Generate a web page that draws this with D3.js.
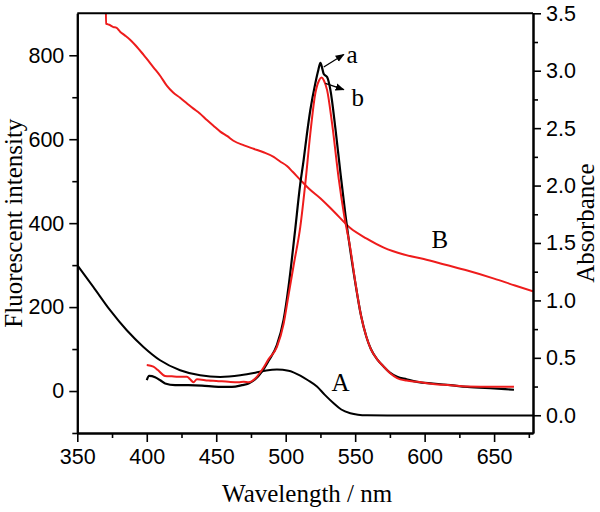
<!DOCTYPE html>
<html><head><meta charset="utf-8">
<script src="https://cdn.jsdelivr.net/npm/d3@7"></script>
<style>body{margin:0;background:#fff}svg{display:block}</style>
</head><body><svg id="c" width="600" height="512"></svg>
<script>
// ---- data ----
const xTicks = [350,400,450,500,550,600,650];
const yLeftTicks = [0,200,400,600,800];
const yRightTicks = [0,0.5,1,1.5,2,2.5,3,3.5];

// Curve A: absorbance (black)
const wlA  = [350,361.5,373.6,385.6,397.6,409.6,424,438.4,452.9,467.3,478.1,486,493.7,502,510.5,516,522.5,528,534.5,540,546.5,552,558.6,580,620,680];
const absA = [1.307,1.118,0.915,0.74,0.595,0.479,0.392,0.348,0.334,0.348,0.37,0.39,0.398,0.388,0.345,0.305,0.25,0.18,0.105,0.05,0.018,0.005,0.0,-0.002,-0.002,-0.002];

// Curve B: absorbance (red)
const wlB  = [370.5,370.7,373,376,378,380.8,384,388,392,397.6,404.8,410,414.4,419,424,429,433.6,438,443.3,448,452.9,458,462.4,470,476.9,484,491.3,496,500.9,505,510.5,517,524.9,535,546.5,558,570.6,585,599.4,615,630.7,650,665,678];
const absB = [3.6,3.41,3.40,3.38,3.375,3.34,3.31,3.27,3.22,3.14,3.03,2.95,2.87,2.81,2.765,2.715,2.67,2.63,2.57,2.52,2.47,2.43,2.39,2.35,2.32,2.29,2.25,2.21,2.17,2.12,2.05,1.97,1.89,1.77,1.63,1.54,1.46,1.40,1.36,1.31,1.26,1.19,1.13,1.08];

// Curve a: fluorescence (black)
const wlFa = [400,401.7,406,410,413.2,420.4,430,439.7,451.6,461.3,468.5,473.3,478.1,482.9,487.7,493.7,498.5,502.1,506.5,510.5,512.9,515.3,517.7,521.3,523.5,525,526.2,527.3,529.8,532.2,535.8,539.4,543,546.5,550,554.2,558,561.3,566,570.6,575,580.2,587,594.6,606,618.6,630.7,650,664.3];
const fA   = [26,36,33,25,18,14,14,13,10,10,14,18,28,46,72,110,170,250,375,494,550,613,669,733,765,782,770,756,748,717,625,520,420,335,260,180,130,100,75,58,44,34,28,22,18,14,10,6,3];

// Curve b: fluorescence (red)
const wlFb = [400,404.8,408,413.2,418,422.8,428.9,431.2,433.6,436.1,444.4,450,458.8,466,469.7,473.3,478.1,482.9,487.7,493.7,498.5,502.1,506,510.5,514.1,517.7,521.3,524,525.7,527.5,529.8,533.4,538.2,542,546.5,550,554.2,558,561.3,566,570.6,575,580.2,587,594.6,606,618.6,630.7,650,664.3];
const fB   = [62,58,50,36,35,34,34,28,21,28,25,24,22,21,22,21,30,50,76,105,160,230,305,391,494,613,709,740,747,740,717,637,505,420,340,262,180,130,100,75,58,43,31,25,22,17,14,11,10,10];

// ---- layout ----
const svg = d3.select("#c");
const L = 77.3, R = 533, T = 13.3, B = 433;
const x = d3.scaleLinear().domain([350,678]).range([L,R]);
const yL = d3.scaleLinear().domain([-100,900]).range([B,T]);
const yR = d3.scaleLinear().domain([-0.1545,3.5]).range([B,T]);
const red = "#ee1c1c";

svg.append("clipPath").attr("id","clip").append("rect")
  .attr("x",L).attr("y",T).attr("width",R-L).attr("height",B-T);

const g = svg.append("g").attr("clip-path","url(#clip)");
const lineR = (wl, v) => d3.line().x((d,i)=>x(wl[i])).y((d,i)=>yR(v[i])).curve(d3.curveMonotoneX)(v);
const lineL = (wl, v) => d3.line().x((d,i)=>x(wl[i])).y((d,i)=>yL(v[i])).curve(d3.curveMonotoneX)(v);

g.append("path").attr("d",lineR(wlA,absA)).attr("fill","none").attr("stroke","#000").attr("stroke-width",2);
g.append("path").attr("d",lineR(wlB,absB)).attr("fill","none").attr("stroke",red).attr("stroke-width",2);
g.append("path").attr("d",lineL(wlFa,fA)).attr("fill","none").attr("stroke","#000").attr("stroke-width",2.2);
g.append("path").attr("d",lineL(wlFb,fB)).attr("fill","none").attr("stroke",red).attr("stroke-width",2);

// frame
svg.append("line").attr("x1",L).attr("x2",R).attr("y1",T).attr("y2",T).attr("stroke","#000").attr("stroke-width",2);

const tickFont = "'Liberation Sans', Arial, sans-serif";
const serif = "'Liberation Serif', 'Times New Roman', serif";

function styleAxis(sel){
  sel.select(".domain").attr("stroke-width",2).attr("stroke","#000");
  sel.selectAll(".tick line").attr("stroke-width",1.6);
  sel.selectAll("text").attr("font-family",tickFont).attr("font-size",21.5).attr("fill","#000");
}
// bottom
const xMinor = d3.range(375,680,50);
svg.append("g").attr("transform",`translate(0,${B})`)
  .call(d3.axisBottom(x).tickValues(xMinor).tickSize(5).tickFormat("").tickSizeOuter(0))
  .call(styleAxis);
svg.append("g").attr("transform",`translate(0,${B})`)
  .call(d3.axisBottom(x).tickValues(xTicks).tickSize(9).tickPadding(7).tickSizeOuter(0).tickFormat(d3.format("d")))
  .call(styleAxis);
// left
svg.append("g").attr("transform",`translate(${L},0)`)
  .call(d3.axisLeft(yL).tickValues([-100,100,300,500,700]).tickSize(5).tickFormat("").tickSizeOuter(0))
  .call(styleAxis);
svg.append("g").attr("transform",`translate(${L},0)`)
  .call(d3.axisLeft(yL).tickValues(yLeftTicks).tickSize(8).tickPadding(5).tickSizeOuter(0))
  .call(styleAxis);
// right
svg.append("g").attr("transform",`translate(${R},0)`)
  .call(d3.axisRight(yR).tickValues([0.25,0.75,1.25,1.75,2.25,2.75,3.25]).tickSize(5).tickFormat("").tickSizeOuter(0))
  .call(styleAxis);
svg.append("g").attr("transform",`translate(${R},0)`)
  .call(d3.axisRight(yR).tickValues(yRightTicks).tickSize(8).tickPadding(5).tickSizeOuter(0).tickFormat(d3.format(".1f")))
  .call(styleAxis);

// titles
svg.append("text").attr("x",(L+R)/2+2).attr("y",502).attr("text-anchor","middle")
  .attr("font-family",serif).attr("font-size",25).text("Wavelength / nm");
svg.append("text").attr("transform",`translate(22,${(T+B)/2}) rotate(-90)`).attr("text-anchor","middle")
  .attr("font-family",serif).attr("font-size",25).text("Fluorescent intensity");
svg.append("text").attr("transform",`translate(594,${(T+B)/2}) rotate(-90)`).attr("text-anchor","middle")
  .attr("font-family",serif).attr("font-size",25).text("Absorbance");

// annotations
const defs = svg.append("defs");
defs.append("marker").attr("id","arr").attr("viewBox","0 0 10 10").attr("refX",9).attr("refY",5)
  .attr("markerWidth",7).attr("markerHeight",7).attr("orient","auto")
  .append("path").attr("d","M0,1 L10,5 L0,9 Z").attr("fill","#000");
const arrows = [[527.4,772,541.8,802],[528.6,733,541.8,718]];
arrows.forEach(a=>{
  svg.append("line").attr("x1",x(a[0])).attr("y1",yL(a[1])).attr("x2",x(a[2])).attr("y2",yL(a[3]))
    .attr("stroke","#000").attr("stroke-width",1.3).attr("marker-end","url(#arr)");
});
const labelsL = [["a",547.8,782],["b",551.8,680]];
labelsL.forEach(l=>svg.append("text").attr("x",x(l[1])).attr("y",yL(l[2])).attr("text-anchor","middle")
  .attr("font-family",serif).attr("font-size",25).text(l[0]));
const labelsR = [["A",539.4,0.21],["B",611,1.455]];
labelsR.forEach(l=>svg.append("text").attr("x",x(l[1])).attr("y",yR(l[2])).attr("text-anchor","middle")
  .attr("font-family",serif).attr("font-size",25).text(l[0]));
</script></body></html>
